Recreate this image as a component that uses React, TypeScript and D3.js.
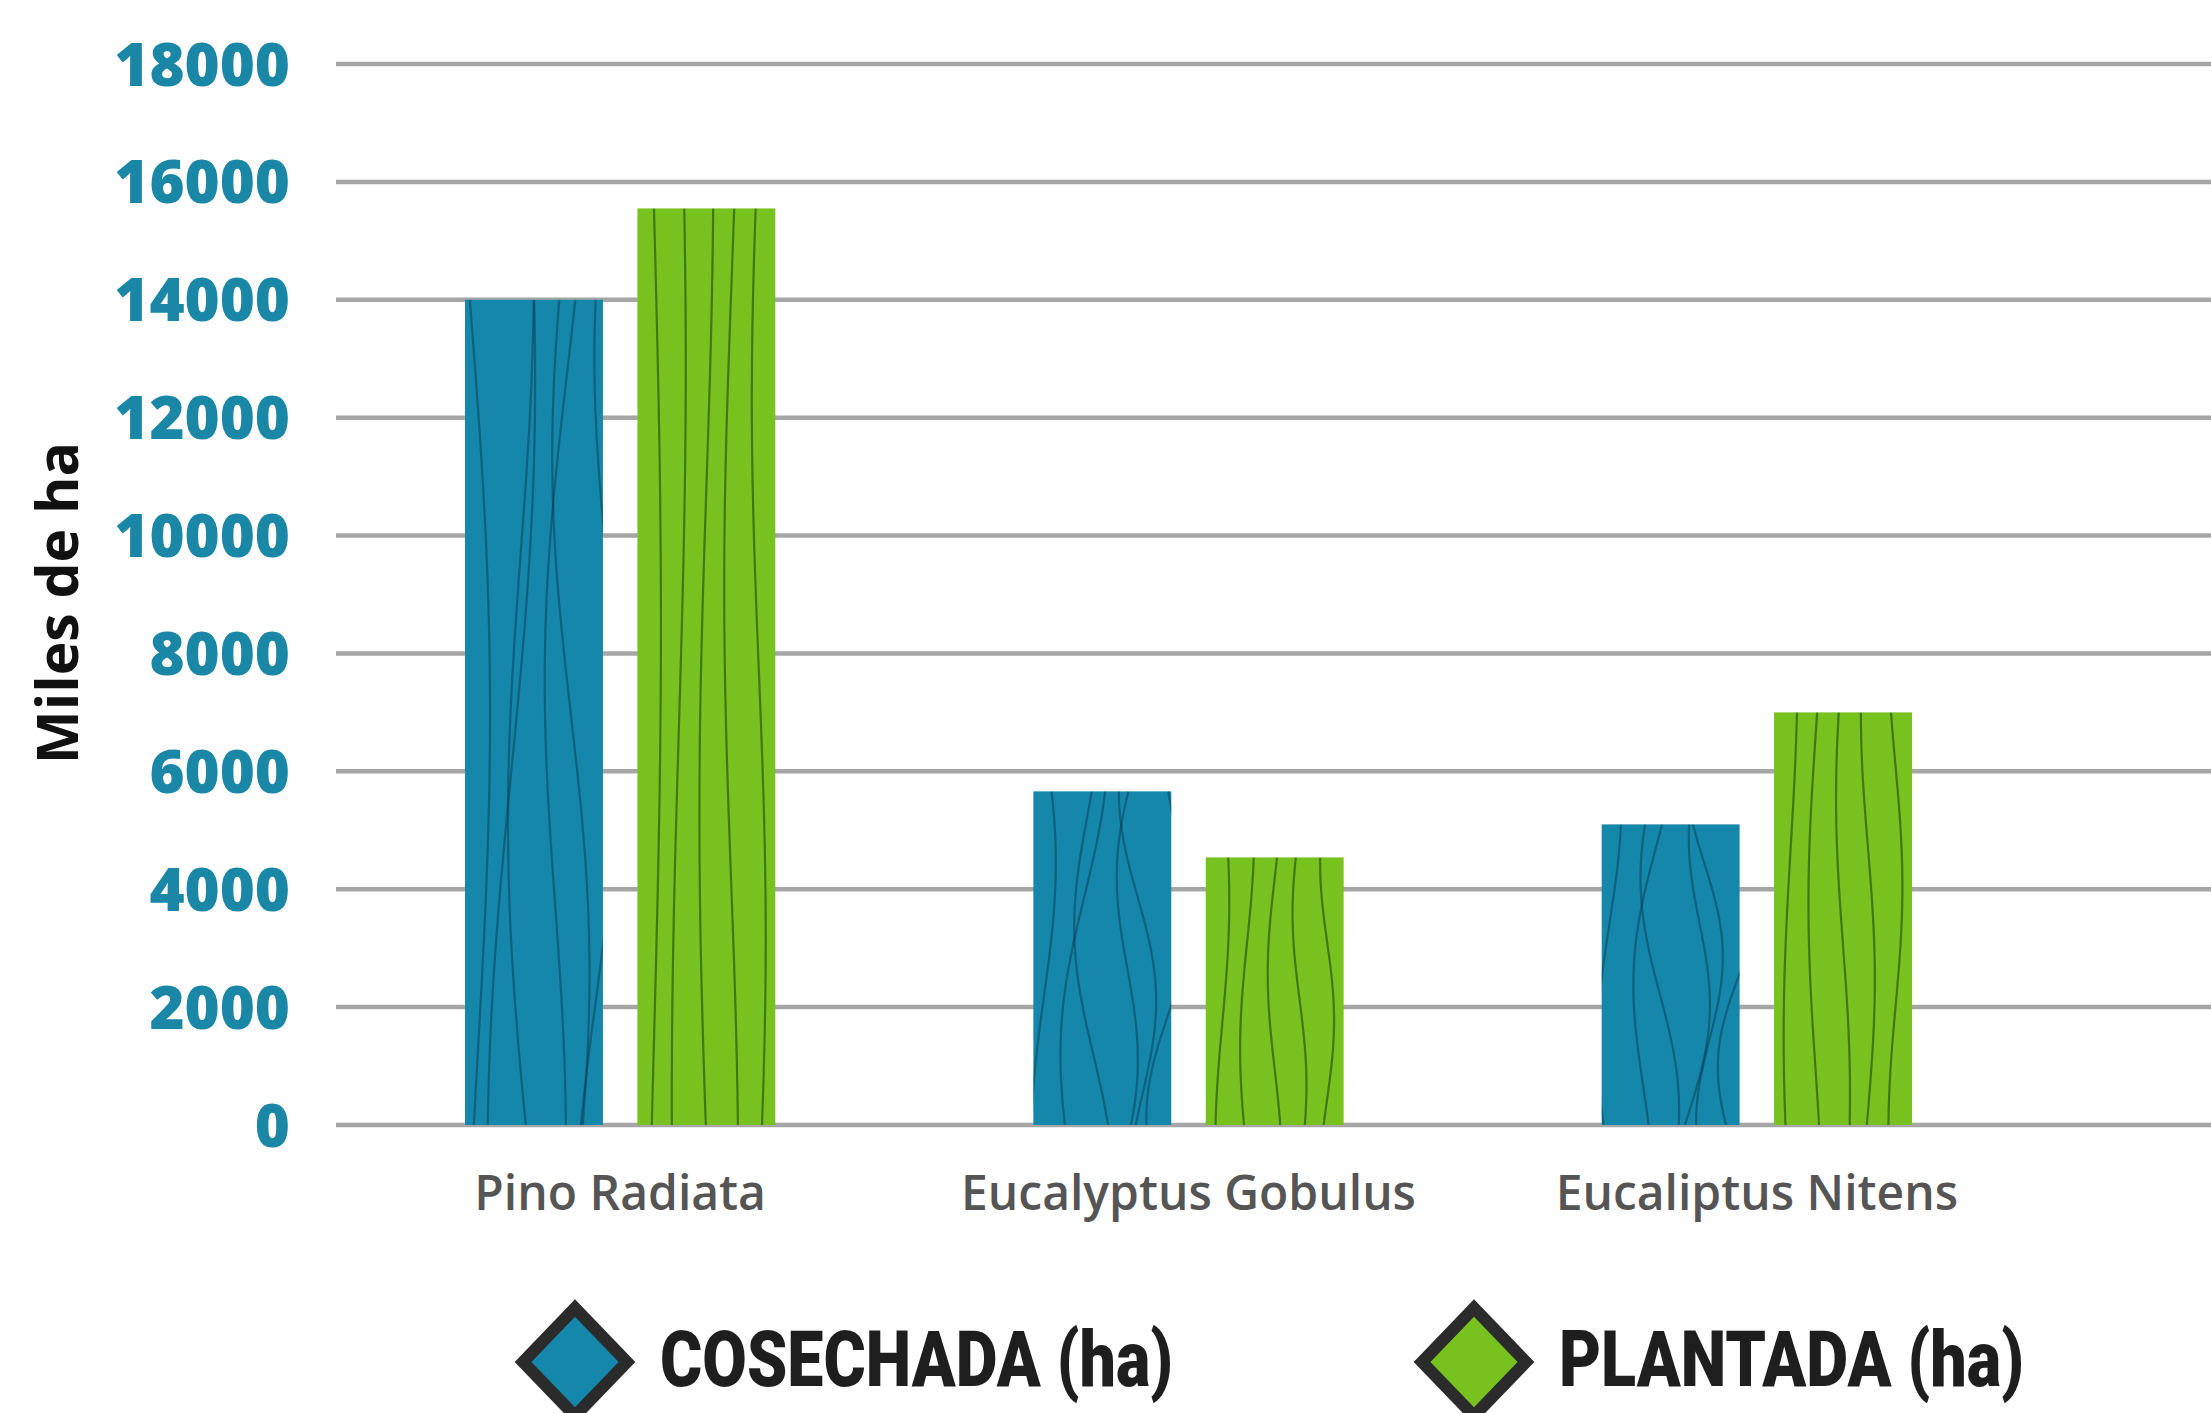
import React from "react";
import * as d3 from "d3";

const categories = ["Pino Radiata", "Eucalyptus Gobulus", "Eucaliptus Nitens"];
const seriesNames = ["COSECHADA (ha)", "PLANTADA (ha)"];
const cosechada = [14000, 5660, 5100];
const plantada = [15550, 4540, 7000];
const yTicks = [0, 2000, 4000, 6000, 8000, 10000, 12000, 14000, 16000, 18000];
const yTitle = "Miles de ha";

const W = 2211;
const H = 1413;
const BLUE = "#1487aa";
const GREEN = "#77c21f";
const TEAL = "#1a87a6";
const seriesColors = [BLUE, GREEN];
const seriesValues = [cosechada, plantada];

const grainFracs = [
  [0.1, 0.28, 0.45, 0.62, 0.8, 0.93],
  [0.12, 0.3, 0.5, 0.68, 0.88],
];

export default function App() {
  const x0 = d3
    .scaleBand<string>()
    .domain(categories)
    .range([336, 2041])
    .paddingInner(0.454)
    .paddingOuter(0.227);
  const x1 = d3
    .scaleBand<number>()
    .domain([0, 1])
    .range([0, x0.bandwidth()])
    .paddingInner(0.2);
  const y = d3.scaleLinear().domain([0, 18000]).range([1125, 64]);

  const line = d3
    .line<[number, number]>()
    .x((d) => d[0])
    .y((d) => d[1])
    .curve(d3.curveBasis);

  const bars: React.ReactNode[] = [];
  categories.forEach((c, ci) => {
    seriesValues.forEach((vals, si) => {
      const v = vals[ci];
      const bx = (x0(c) as number) + (x1(si) as number);
      const bw = x1.bandwidth();
      const by = y(v);
      const bh = y(0) - by;
      const id = `clip-${ci}-${si}`;
      const grains = grainFracs[si].map((f, gi) => {
        const pts: [number, number][] = [];
        const steps = 30;
        for (let k = 0; k <= steps; k++) {
          const t = k / steps;
          const amp = si === 0 ? 16 : 7;
          const dx =
            amp * Math.sin(t * Math.PI * (1.1 + gi * 0.15) + gi * 0.9 + ci) +
            (si === 0 ? (1 - t) * 18 * (gi % 2 ? 1 : -0.5) : 0);
          pts.push([bx + f * bw + dx, by + t * bh]);
        }
        return (
          <path
            key={gi}
            d={line(pts) || ""}
            fill="none"
            stroke={si === 0 ? "rgba(8,40,60,0.4)" : "rgba(30,70,10,0.6)"}
            strokeWidth={2.2}
          />
        );
      });
      bars.push(
        <g key={id}>
          <defs>
            <clipPath id={id}>
              <rect x={bx} y={by} width={bw} height={bh} />
            </clipPath>
          </defs>
          <rect x={bx} y={by} width={bw} height={bh} fill={seriesColors[si]} />
          <g clipPath={`url(#${id})`}>{grains}</g>
        </g>
      );
    });
  });

  const legendX = [575, 1474];
  const legendY = 1362;
  const legendTextW = [513, 465];

  return (
    <svg
      width={W}
      height={H}
      viewBox={`0 0 ${W} ${H}`}
      style={{ position: "absolute", left: 0, top: 0, background: "#fff" }}
    >
      <rect x={0} y={0} width={W} height={H} fill="#fff" />
      {yTicks.map((t) => (
        <g key={t}>
          <line
            x1={336}
            x2={W}
            y1={y(t)}
            y2={y(t)}
            stroke="#a6a6a6"
            strokeWidth={4.5}
          />
          <text
            x={290}
            y={y(t)}
            dy="0.36em"
            textAnchor="end"
            fill={TEAL}
            fontFamily="'Open Sans', sans-serif"
            fontWeight={800}
            fontSize={60}
          >
            {t}
          </text>
        </g>
      ))}
      <text
        transform={`translate(78, 603) rotate(-90)`}
        textAnchor="middle"
        fill="#111"
        fontFamily="'Open Sans', sans-serif"
        fontWeight={700}
        fontSize={57}
      >
        {yTitle}
      </text>
      {bars}
      {categories.map((c) => (
        <text
          key={c}
          x={(x0(c) as number) + x0.bandwidth() / 2}
          y={1210}
          textAnchor="middle"
          fill="#555"
          fontFamily="'Open Sans', sans-serif"
          fontWeight={600}
          fontSize={48}
        >
          {c}
        </text>
      ))}
      {seriesNames.map((s, i) => {
        const cx = legendX[i];
        const hw = 52;
        const hh = 54;
        return (
          <g key={s}>
            <path
              d={`M${cx},${legendY - hh} L${cx + hw},${legendY} L${cx},${legendY + hh} L${cx - hw},${legendY} Z`}
              fill={seriesColors[i]}
              stroke="#2b2b2b"
              strokeWidth={12}
              strokeLinejoin="miter"
            />
            <text
              x={cx + 85}
              y={1386}
              fill="#1e1e1e"
              fontFamily="Roboto, sans-serif"
              fontWeight={900}
              fontSize={78}
              textLength={legendTextW[i]}
              lengthAdjust="spacingAndGlyphs"
            >
              {s}
            </text>
          </g>
        );
      })}
    </svg>
  );
}
